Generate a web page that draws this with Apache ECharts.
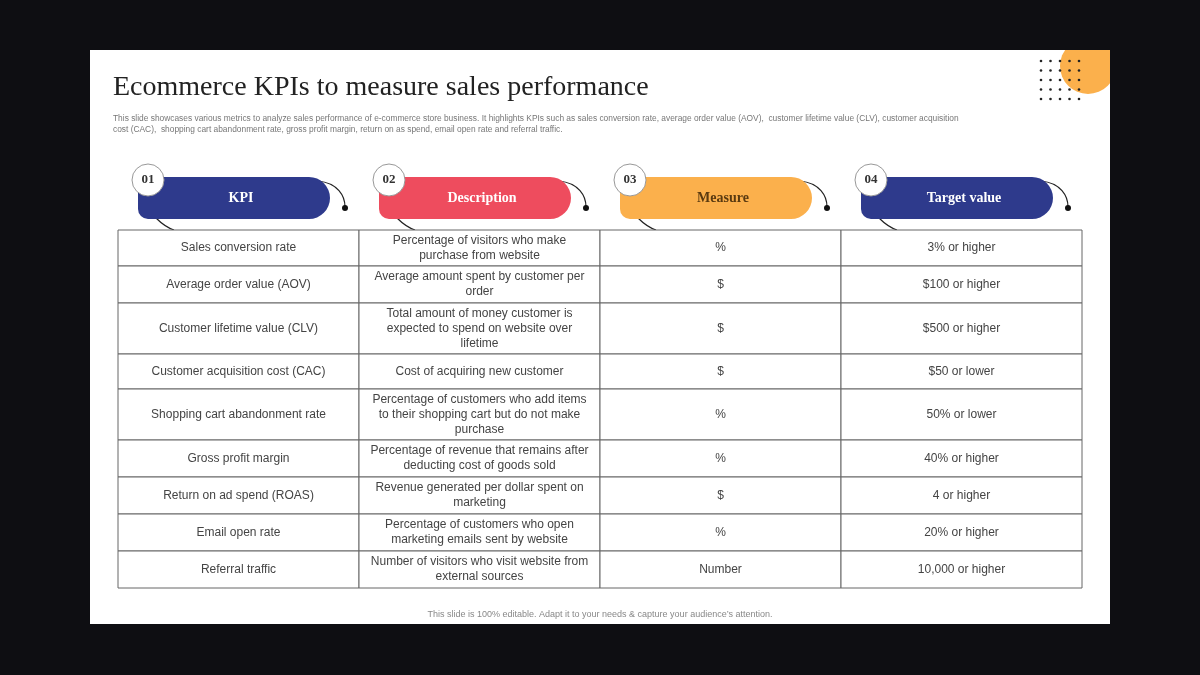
<!DOCTYPE html>
<html lang="en">
<head>
  <meta charset="UTF-8">
  <script src="https://cdn.jsdelivr.net/npm/echarts@6/dist/echarts.min.js"></script>
  <title>Ecommerce KPIs</title>
</head>
<body>
  <div id="chart"></div>
</body>
<style>
  html,body{ padding:0; margin:0; height:100vh; width:100vw; background:#0e0e12 }
  #chart { height:675px; width:1200px }
</style>
</html>
<script>
const headers = ['KPI', 'Description', 'Measure', 'Target value']
const headerNums = ['01', '02', '03', '04']
const headerColors = ['#2e3a8c', '#ee4c5e', '#fbb04c', '#2e3a8c']
const headerText = ['#fff', '#fff', '#5a3a10', '#fff']
const kpis = ['Sales conversion rate', 'Average order value (AOV)', 'Customer lifetime value (CLV)',
  'Customer acquisition cost (CAC)', 'Shopping cart abandonment rate', 'Gross profit margin',
  'Return on ad spend (ROAS)', 'Email open rate', 'Referral traffic']
const descriptions = ['Percentage of visitors who make\npurchase from website', 'Average amount spent by customer per\norder',
  'Total amount of money customer is\nexpected to spend on website over\nlifetime', 'Cost of acquiring new customer',
  'Percentage of customers who add items\nto their shopping cart but do not make\npurchase',
  'Percentage of revenue that remains after\ndeducting cost of goods sold', 'Revenue generated per dollar spent on\nmarketing',
  'Percentage of customers who open\nmarketing emails sent by website', 'Number of visitors who visit website from\nexternal sources']
const measures = ['%', '$', '$', '$', '%', '%', '$', '%', 'Number']
const targets = ['3% or higher', '$100 or higher', '$500 or higher', '$50 or lower', '50% or lower',
  '40% or higher', '4 or higher', '20% or higher', '10,000 or higher']
const rowEdges = [230, 266, 303, 354, 389, 440, 477, 514, 551, 588]
const colEdges = [118, 359, 600, 841, 1082]

const g = []
// slide
g.push({ type: 'rect', shape: { x: 90, y: 50, width: 1020, height: 574 }, style: { fill: '#fff' } })
g.push({ type: 'circle', shape: { cx: 1088, cy: 66, r: 28 }, style: { fill: '#fbb04c' } })
g.push({ type: 'rect', shape: { x: 1110, y: 30, width: 60, height: 80 }, style: { fill: '#0e0e12' } })
g.push({ type: 'rect', shape: { x: 1050, y: 20, width: 70, height: 30 }, style: { fill: '#0e0e12' } })
for (let i = 0; i < 5; i++) for (let j = 0; j < 5; j++)
  g.push({ type: 'circle', shape: { cx: 1041 + i * 9.5, cy: 61 + j * 9.5, r: 1.3 }, style: { fill: '#222' } })
g.push({ type: 'text', x: 113, y: 88, style: { text: 'Ecommerce KPIs to measure sales performance', font: '28px "Liberation Serif"', fill: '#222', verticalAlign: 'middle' } })
g.push({ type: 'text', x: 113, y: 124, style: { text: 'This slide showcases various metrics to analyze sales performance of e-commerce store business. It highlights KPIs such as sales conversion rate, average order value (AOV),  customer lifetime value (CLV), customer acquisition\ncost (CAC),  shopping cart abandonment rate, gross profit margin, return on as spend, email open rate and referral traffic.', font: '8.4px "Liberation Sans"', fill: '#777', lineHeight: 11, verticalAlign: 'middle' } })
g.push({ type: 'text', x: 600, y: 615, style: { text: 'This slide is 100% editable. Adapt it to your needs & capture your audience\u2019s attention.', font: '9px "Liberation Sans"', fill: '#888', align: 'center', verticalAlign: 'middle' } })

// headers
headers.forEach((h, i) => {
  const x0 = 138 + i * 241
  g.push({ type: 'bezierCurve', shape: { x1: x0 + 180, y1: 181, cpx1: x0 + 200, cpy1: 183, cpx2: x0 + 207, cpy2: 196, x2: x0 + 207, y2: 207 }, style: { stroke: '#222', lineWidth: 1.2, fill: null } })
  g.push({ type: 'circle', shape: { cx: x0 + 207, cy: 208, r: 3 }, style: { fill: '#111' } })
  g.push({ type: 'bezierCurve', shape: { x1: x0 + 18, y1: 218, cpx1: x0 + 24, cpy1: 224, cpx2: x0 + 30, cpy2: 228, x2: x0 + 36, y2: 230 }, style: { stroke: '#222', lineWidth: 1.2, fill: null } })
  g.push({ type: 'rect', shape: { x: x0, y: 177, width: 192, height: 42, r: [6, 21, 21, 10] }, style: { fill: headerColors[i] } })
  g.push({ type: 'text', x: x0 + 103, y: 198, style: { text: h, font: 'bold 14px "Liberation Serif"', fill: headerText[i], align: 'center', verticalAlign: 'middle' } })
  g.push({ type: 'circle', shape: { cx: x0 + 10, cy: 180, r: 16 }, style: { fill: '#fff', stroke: '#999', lineWidth: 1 } })
  g.push({ type: 'text', x: x0 + 10, y: 180, style: { text: headerNums[i], font: 'bold 13px "Liberation Serif"', fill: '#333', align: 'center', verticalAlign: 'middle' } })
})

// table
const cols = [kpis, descriptions, measures, targets]
for (let r = 0; r < kpis.length; r++) {
  for (let c = 0; c < 4; c++) {
    g.push({ type: 'rect', shape: { x: colEdges[c], y: rowEdges[r], width: colEdges[c + 1] - colEdges[c], height: rowEdges[r + 1] - rowEdges[r] }, style: { fill: '#fff', stroke: '#666', lineWidth: 1 } })
    g.push({ type: 'text', x: (colEdges[c] + colEdges[c + 1]) / 2, y: (rowEdges[r] + rowEdges[r + 1]) / 2, style: { text: cols[c][r], font: '12px "Liberation Sans"', fill: '#444', align: 'center', verticalAlign: 'middle', lineHeight: 15 } })
  }
}

const chartDom = document.getElementById('chart')
const myChart = echarts.init(chartDom)
myChart.setOption({ graphic: { elements: g } })
</script>
